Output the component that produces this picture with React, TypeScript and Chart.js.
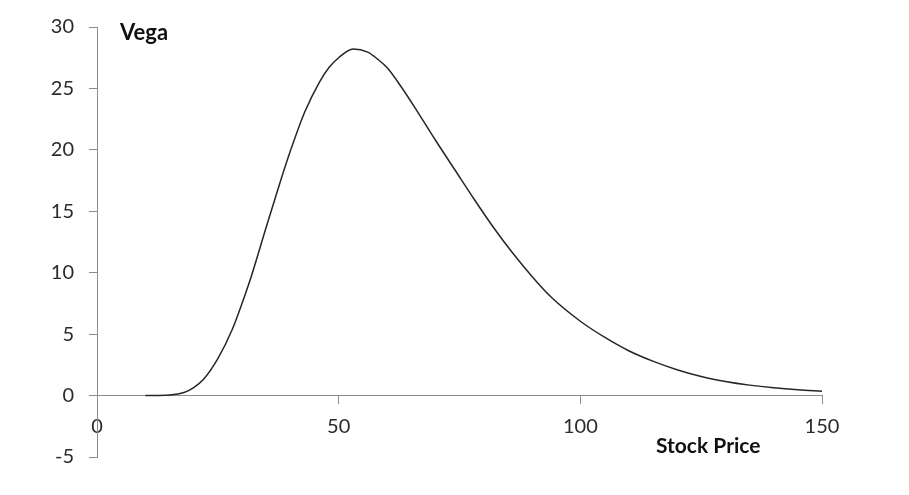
import React, { useEffect, useRef } from "react";
import { Chart, registerables } from "chart.js";

Chart.register(...registerables);

const stockPrice = [10, 15, 18, 20, 22, 25, 28, 30, 32, 35, 38, 40, 43, 46, 48, 50, 53, 56, 58, 60, 63, 66, 70, 74, 78, 82, 86, 90, 94, 100, 105, 110, 115, 120, 125, 130, 135, 140, 145, 150];
const vega = [0.0, 0.05, 0.25, 0.65, 1.3, 3.0, 5.4, 7.5, 9.8, 13.7, 17.5, 19.9, 23.1, 25.5, 26.7, 27.5, 28.2, 27.95, 27.4, 26.7, 25.1, 23.3, 20.8, 18.4, 16.0, 13.7, 11.6, 9.7, 8.0, 6.05, 4.75, 3.65, 2.8, 2.1, 1.55, 1.15, 0.85, 0.63, 0.47, 0.36];
const xTicks = [0, 50, 100, 150];
const yTicks = [-5, 0, 5, 10, 15, 20, 25, 30];
const yTitle = "Vega";
const xTitle = "Stock Price";

export default function App() {
  const canvasRef = useRef<HTMLCanvasElement | null>(null);

  useEffect(() => {
    document.body.style.margin = "0";
    const ctx = canvasRef.current!;
    const axisColor = "#8c8c8c";
    const tickFont = { family: "Lato", size: 20 };
    const chart = new Chart(ctx, {
      type: "line",
      data: {
        datasets: [
          {
            data: stockPrice.map((x, i) => ({ x, y: vega[i] })),
            borderColor: "#262626",
            borderWidth: 1.5,
            pointRadius: 0,
            cubicInterpolationMode: "monotone",
            fill: false,
          },
        ],
      },
      options: {
        animation: false,
        responsive: false,
        maintainAspectRatio: false,
        events: [],
        layout: { padding: { top: 27, right: 87, bottom: 38, left: 0 } },
        plugins: { legend: { display: false }, tooltip: { enabled: false }, title: { display: false } },
        scales: {
          x: {
            type: "linear",
            position: { y: 0 } as any,
            min: xTicks[0],
            max: xTicks[xTicks.length - 1],
            afterBuildTicks: (s: any) => {
              s.ticks = xTicks.map((v) => ({ value: v }));
            },
            afterFit: (s: any) => {
              s.height = 0;
            },
            grid: { drawOnChartArea: false, drawTicks: true, tickLength: 8, color: axisColor, lineWidth: 1 },
            border: { display: true, color: axisColor, width: 1 },
            ticks: { color: "#2b2b2b", font: tickFont, padding: 11, maxRotation: 0, autoSkip: false },
          },
          y: {
            type: "linear",
            position: "left",
            min: yTicks[0],
            max: yTicks[yTicks.length - 1],
            afterBuildTicks: (s: any) => {
              s.ticks = yTicks.map((v) => ({ value: v }));
            },
            afterFit: (s: any) => {
              s.width = 97;
            },
            grid: { drawOnChartArea: false, drawTicks: true, tickLength: 8, color: axisColor, lineWidth: 1 },
            border: { display: true, color: axisColor, width: 1 },
            ticks: { color: "#2b2b2b", font: tickFont, padding: 15, autoSkip: false },
          },
        },
      },
    });
    return () => chart.destroy();
  }, []);

  return (
    <div style={{ position: "relative", width: 909, height: 495, background: "#fff" }}>
      <canvas ref={canvasRef} width={909} height={495} style={{ display: "block", width: 909, height: 495 }} />
      <div
        style={{
          position: "absolute",
          left: 120,
          top: 19,
          fontFamily: "Lato",
          fontWeight: 700,
          fontSize: 22,
          color: "#111",
          lineHeight: "26px",
        }}
      >
        {yTitle}
      </div>
      <div
        style={{
          position: "absolute",
          left: 656,
          top: 432,
          fontFamily: "Lato",
          fontWeight: 700,
          fontSize: 21,
          color: "#111",
          lineHeight: "26px",
          whiteSpace: "nowrap",
        }}
      >
        {xTitle}
      </div>
    </div>
  );
}
